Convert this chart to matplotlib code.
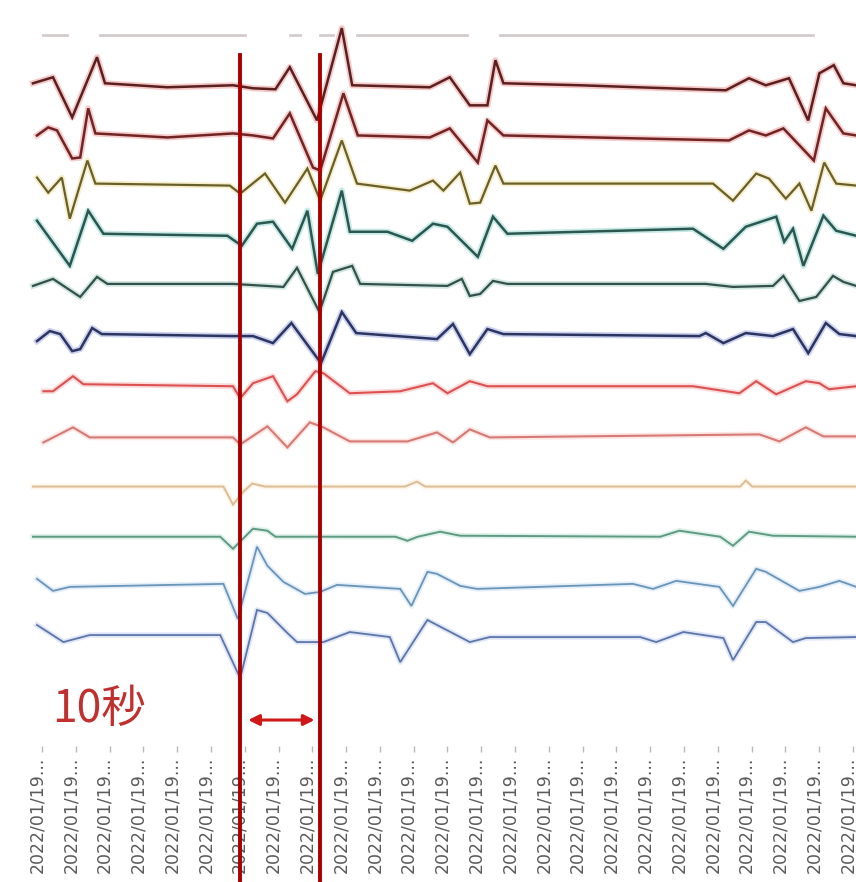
import matplotlib.pyplot as plt
import numpy as np

# Multi-channel recording, 12 channels stacked top to bottom.
# Each channel: vertex times (s) and amplitude (units of channel spacing).
t_ch1 = [0.0, 2.5, 4.9, 8.0, 9.0, 16.8, 25.0, 27.5, 30.3, 32.1, 35.5, 38.6, 39.9, 49.6, 52.1,
         54.6, 56.8, 57.8, 58.8, 68.4, 86.6, 89.5, 91.6, 94.5, 96.9, 98.3, 100.1, 101.3, 102.9]
v_ch1 = [0.04, 0.16, -0.64, 0.56, 0.04, -0.04, 0.0, -0.06, -0.08, 0.36, -0.70, 1.14, 0.0, -0.04, 0.16,
         -0.40, -0.40, 0.50, 0.04, 0.0, -0.10, 0.14, 0.0, 0.14, -0.70, 0.24, 0.40, 0.04, 0.0]

t_ch2 = [0.5, 1.9, 3.0, 4.9, 5.9, 6.9, 7.8, 16.8, 25.0, 27.5, 30.0, 32.1, 35.0, 35.9, 38.8,
         40.6, 49.6, 52.1, 55.6, 56.8, 58.8, 87.0, 89.5, 91.6, 93.8, 97.6, 99.1, 101.3, 102.9]
v_ch2 = [0.0, 0.16, 0.10, -0.46, -0.44, 0.54, 0.04, -0.04, 0.04, 0.0, -0.06, 0.44, -0.64, -0.70, 0.84,
         0.0, -0.04, 0.14, -0.54, 0.30, 0.0, -0.10, 0.10, 0.0, 0.14, -0.50, 0.54, 0.04, 0.0]

t_ch3 = [0.5, 1.9, 3.6, 4.6, 6.8, 7.8, 24.6, 25.9, 29.0, 31.5, 34.3, 35.9, 38.6, 40.5, 47.1, 50.0,
         51.3, 53.4, 54.6, 55.9, 57.8, 58.8, 85.0, 87.5, 90.4, 92.0, 94.1, 95.8, 97.3, 98.9, 100.4, 102.9]
v_ch3 = [0.16, -0.14, 0.16, -0.66, 0.50, 0.04, 0.0, -0.16, 0.24, -0.34, 0.34, -0.30, 0.90, 0.04, -0.10, 0.10,
         -0.10, 0.26, -0.36, -0.34, 0.40, 0.04, 0.04, -0.30, 0.24, 0.14, -0.26, 0.04, -0.50, 0.46, 0.04, 0.0]

t_ch4 = [0.5, 4.6, 6.9, 8.8, 24.3, 26.1, 28.0, 30.0, 32.4, 34.3, 35.6, 38.6, 39.6, 44.3, 47.4,
         50.0, 51.8, 55.6, 57.5, 59.3, 82.5, 86.3, 89.1, 92.9, 93.9, 95.0, 96.3, 98.8, 100.4, 102.9]
v_ch4 = [0.30, -0.60, 0.50, 0.04, 0.0, -0.20, 0.24, 0.28, -0.26, 0.50, -0.76, 0.90, 0.08, 0.08, -0.10,
         0.24, 0.18, -0.42, 0.38, 0.04, 0.14, -0.26, 0.18, 0.38, -0.12, 0.14, -0.60, 0.40, 0.10, 0.0]

t_ch5 = [0.0, 2.5, 5.9, 8.0, 9.3, 25.0, 31.3, 33.0, 35.8, 37.5, 39.9, 40.9, 51.8, 53.6,
         54.6, 55.9, 57.5, 59.3, 84.1, 87.5, 92.5, 93.8, 95.8, 97.9, 100.0, 101.3, 102.9]
v_ch5 = [0.0, 0.14, -0.22, 0.18, 0.04, 0.04, -0.02, 0.36, -0.52, 0.28, 0.40, 0.04, 0.0, 0.14,
         -0.20, -0.16, 0.10, 0.04, 0.04, -0.02, 0.0, 0.20, -0.30, -0.22, 0.20, 0.08, 0.0]

t_ch6 = [0.5, 2.1, 3.4, 4.9, 5.9, 7.4, 8.6, 25.0, 27.5, 30.0, 32.3, 36.0, 38.6, 40.4, 50.5,
         52.5, 54.6, 56.8, 58.8, 83.3, 84.1, 86.3, 89.1, 92.5, 95.0, 96.9, 99.1, 100.8, 102.9]
v_ch6 = [-0.10, 0.10, 0.04, -0.30, -0.26, 0.16, 0.04, 0.0, 0.0, -0.14, 0.26, -0.54, 0.48, 0.06, -0.06,
         0.24, -0.36, 0.14, 0.04, 0.0, 0.06, -0.14, 0.06, 0.0, 0.14, -0.34, 0.26, 0.04, 0.0]

t_ch7 = [1.3, 2.5, 5.0, 6.3, 25.0, 25.9, 27.5, 30.0, 31.8, 33.0, 35.3, 36.3, 39.6,
         45.9, 50.0, 51.8, 54.6, 56.8, 82.5, 88.3, 90.4, 92.9, 96.6, 98.3, 99.5, 102.9]
v_ch7 = [-0.10, -0.10, 0.20, 0.04, 0.0, -0.24, 0.06, 0.20, -0.30, -0.16, 0.30, 0.26, -0.14,
         -0.10, 0.06, -0.14, 0.10, 0.0, 0.0, -0.14, 0.10, -0.16, 0.10, 0.06, -0.06, 0.0]

t_ch8 = [1.3, 5.0, 7.1, 25.0, 25.9, 29.3, 31.8, 34.6, 36.3, 39.6,
         46.8, 50.5, 52.5, 54.6, 57.1, 90.8, 93.3, 96.6, 98.8, 102.9]
v_ch8 = [-0.12, 0.18, -0.02, -0.02, -0.16, 0.20, -0.22, 0.28, 0.18, -0.10,
         -0.10, 0.08, -0.12, 0.14, -0.02, 0.04, -0.10, 0.18, 0.0, 0.0]

t_ch9 = [0.0, 23.8, 25.0, 26.3, 27.4, 29.0, 46.5, 48.0, 49.0, 88.4, 89.1, 89.9, 102.9]
v_ch9 = [0.0, 0.0, -0.36, -0.10, 0.06, 0.0, 0.0, 0.10, 0.0, 0.0, 0.12, 0.0, 0.0]

t_ch10 = [0.0, 23.4, 25.0, 27.5, 29.3, 30.3, 45.3, 46.8, 48.1,
          50.9, 53.4, 78.4, 80.8, 85.9, 87.5, 89.5, 92.5, 102.9]
v_ch10 = [0.0, 0.0, -0.24, 0.16, 0.12, 0.0, 0.0, -0.08, 0.0,
          0.10, 0.02, 0.0, 0.12, 0.0, -0.18, 0.10, 0.02, 0.0]

t_ch11 = [0.5, 2.5, 4.6, 23.8, 25.6, 28.0, 29.3, 31.3, 34.0, 35.9, 38.0, 45.9, 47.3, 49.3,
          50.5, 53.4, 55.5, 75.0, 77.5, 80.4, 85.8, 87.5, 90.4, 91.6, 95.8, 98.3, 100.8, 102.9]
v_ch11 = [0.16, -0.08, 0.0, 0.06, -0.64, 0.80, 0.42, 0.10, -0.14, -0.10, 0.04, -0.04, -0.38, 0.30,
          0.26, 0.02, -0.04, 0.06, -0.04, 0.12, 0.0, -0.38, 0.36, 0.30, -0.08, 0.0, 0.12, 0.0]

t_ch12 = [0.5, 3.8, 7.1, 23.4, 25.9, 28.0, 29.3, 31.8, 33.0, 36.3, 39.6, 44.6, 45.9,
          49.3, 54.6, 57.1, 75.9, 77.9, 81.3, 86.3, 87.5, 90.4, 91.6, 95.0, 96.6, 102.9]
v_ch12 = [0.24, -0.10, 0.04, 0.04, -0.82, 0.54, 0.48, 0.08, -0.10, -0.10, 0.10, 0.0, -0.50,
          0.34, -0.10, 0.0, 0.0, -0.10, 0.10, -0.02, -0.46, 0.30, 0.30, -0.10, -0.02, 0.0]

# flat reference channel above channel 1, NaN marks dropouts
t_ref = [1.3, 4.3, 4.3, 8.4, 26.5, 26.5, 32.1, 33.4, 33.4, 35.9, 37.5, 37.5, 40.5, 54.3, 54.3, 58.4, 97.5]
v_ref = [0.0, 0.0, np.nan, 0.0, 0.0, np.nan, 0.0, 0.0, np.nan, 0.0, 0.0, np.nan, 0.0, 0.0, np.nan, 0.0, 0.0]

# core colour / glow colour per channel
core_colors = ["#5a2020", "#702424", "#68602c", "#2c5650", "#33504a", "#2b3560",
               "#dc5252", "#d67a76", "#dcbc94", "#5f9a82", "#6a94b8", "#5c76aa"]
glow_colors = ["#e03a3a", "#e04848", "#e8c24a", "#3cb4a8", "#5aa890", "#4a5ec8",
               "#f08080", "#f4a8a0", "#f8dcb0", "#90d0b8", "#9cc4ec", "#90a8e0"]
core_widths = [1.8, 1.8, 1.6, 1.8, 1.6, 1.8, 1.5, 1.5, 1.4, 1.4, 1.3, 1.3]

tick_labels = ["2022/01/19..."] * 25
marker_t = [25.9, 35.9]      # interval markers, 10 s apart
span_label = "10秒"

traces = [(t_ch1, v_ch1), (t_ch2, v_ch2), (t_ch3, v_ch3), (t_ch4, v_ch4),
          (t_ch5, v_ch5), (t_ch6, v_ch6), (t_ch7, v_ch7), (t_ch8, v_ch8),
          (t_ch9, v_ch9), (t_ch10, v_ch10), (t_ch11, v_ch11), (t_ch12, v_ch12)]
n_ch = len(traces)

fig = plt.figure(figsize=(8.56, 8.82), dpi=100)
ax = fig.add_axes([0, 136 / 882, 1, 746 / 882])

ax.plot(t_ref, np.array(v_ref) + n_ch, color="#d4cccc", lw=2.0, zorder=1)

for i, (t, v) in enumerate(traces):
    off = n_ch - 1 - i
    y = np.array(v) + off
    ax.plot(t, y, color=glow_colors[i], lw=core_widths[i] + 2.6, alpha=0.28,
            solid_joinstyle="round", zorder=2)
    ax.plot(t, y, color=core_colors[i], lw=core_widths[i],
            solid_joinstyle="miter", zorder=3)

ax.set_xlim(-33 / 8, (856 - 33) / 8)
ax.set_ylim(-2.172, 12.70)

for s in ax.spines.values():
    s.set_visible(False)
ax.set_yticks([])

tick_t = np.linspace(1.125, 102.5, len(tick_labels))
ax.set_xticks(tick_t)
ax.set_xticklabels(tick_labels, rotation=90, rotation_mode="anchor",
                   ha="right", va="baseline", fontsize=12.5, color="#5a5a5a")
ax.tick_params(axis="x", length=4, width=1, color="#b8b8b8", pad=4)

# interval markers and the span annotation
for t in marker_t:
    ax.axvline(t, ymin=-0.19, ymax=0.926, color="#a80000", lw=2.8,
               clip_on=False, zorder=10)

ax.annotate("", xy=(marker_t[1] - 0.7, -1.654), xytext=(marker_t[0] + 1.0, -1.654),
            arrowprops=dict(arrowstyle="<|-|>", color="#d01818", lw=2.2,
                            mutation_scale=16, shrinkA=0, shrinkB=0),
            zorder=11)
ax.text(2.4, -1.70, span_label, fontsize=32, color="#c0302e", va="baseline",
        family=["Noto Sans CJK JP", "DejaVu Sans"], zorder=11)

fig.savefig("out.png", dpi=100)
